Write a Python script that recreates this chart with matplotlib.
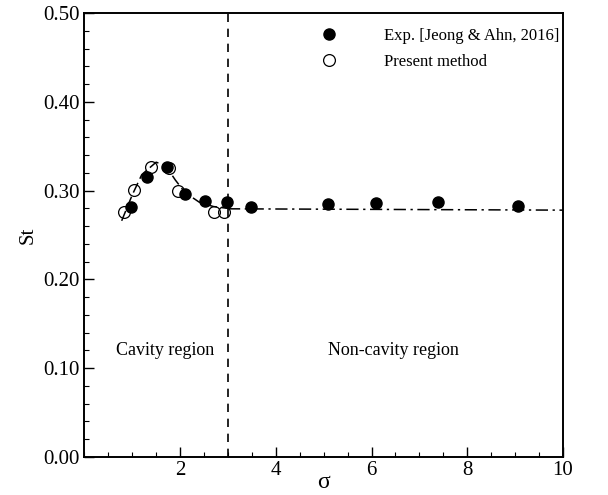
# -*-coding=utf-8-*-

import numpy as np
import matplotlib
matplotlib.use("Agg")
import matplotlib.pyplot as plt
from matplotlib.ticker import MultipleLocator, FormatStrFormatter

# experiment [Jeong & Ahn, 2016]
exp_sigma = [0.98, 1.31, 1.72, 2.10, 2.53, 2.98, 3.49, 5.09, 6.10, 7.39, 9.06]
exp_st = [0.282, 0.315, 0.327, 0.296, 0.288, 0.287, 0.281, 0.285, 0.286, 0.287, 0.283]

# present method
num_sigma = [0.83, 1.04, 1.39, 1.77, 1.95, 2.71, 2.92]
num_st = [0.276, 0.301, 0.327, 0.325, 0.300, 0.276, 0.276]

# trend lines
cav_sigma = [0.78, 1.0, 1.2, 1.5, 1.7, 1.9, 2.1, 2.4, 2.7, 3.0]
cav_st = [0.266, 0.295, 0.318, 0.332, 0.328, 0.312, 0.298, 0.287, 0.282, 0.280]
noncav_sigma = [3.0, 10.0]
noncav_st = [0.2795, 0.278]

boundary = 3.0

def main():
	plt.rcParams['font.family'] = ['Liberation Serif', 'DejaVu Serif']
	fig = plt.figure(figsize=(6.08, 4.95), dpi=100)
	ax = fig.add_axes([0.1387, 0.0768, 0.7873, 0.8969])

	ax.plot(cav_sigma, cav_st, color='k', lw=1.1, dashes=(7, 3))
	ax.plot(noncav_sigma, noncav_st, color='k', lw=1.1, dashes=(8, 3, 1.5, 3))
	ax.axvline(boundary, color='k', lw=1.2, dashes=(5, 4))

	ax.plot(exp_sigma, exp_st, 'o', color='k', ms=8, label='Exp. [Jeong & Ahn, 2016]')
	ax.plot(num_sigma, num_st, 'o', mfc='none', mec='k', mew=0.9, ms=8.5, label='Present method')

	ax.text(1.68, 0.12, 'Cavity region', ha='center', va='center', fontsize=13)
	ax.text(6.45, 0.12, 'Non-cavity region', ha='center', va='center', fontsize=13)

	ax.set_xlim(0, 10)
	ax.set_ylim(0, 0.5)
	ax.set_xticks([2, 4, 6, 8, 10])
	ax.xaxis.set_minor_locator(MultipleLocator(0.5))
	ax.yaxis.set_major_locator(MultipleLocator(0.1))
	ax.yaxis.set_minor_locator(MultipleLocator(0.02))
	ax.yaxis.set_major_formatter(FormatStrFormatter('%.2f'))
	ax.tick_params(which='both', direction='in', top=False, right=False, labelsize=15)
	ax.tick_params(which='major', length=7, width=1)
	ax.tick_params(which='minor', length=3.5, width=0.8)
	ax.tick_params(axis='x', pad=3)
	for s in ax.spines.values():
		s.set_linewidth(1.4)

	ax.set_xlabel('σ', fontsize=17, labelpad=-6)
	ax.set_ylabel('St', fontsize=15, labelpad=4)

	ax.legend(loc='upper left', bbox_to_anchor=(0.458, 1.0), frameon=False, fontsize=12,
		handlelength=1.2, handletextpad=2.7, labelspacing=0.6)

	fig.savefig('out.png', dpi=100)

if __name__ == "__main__":
	main()
